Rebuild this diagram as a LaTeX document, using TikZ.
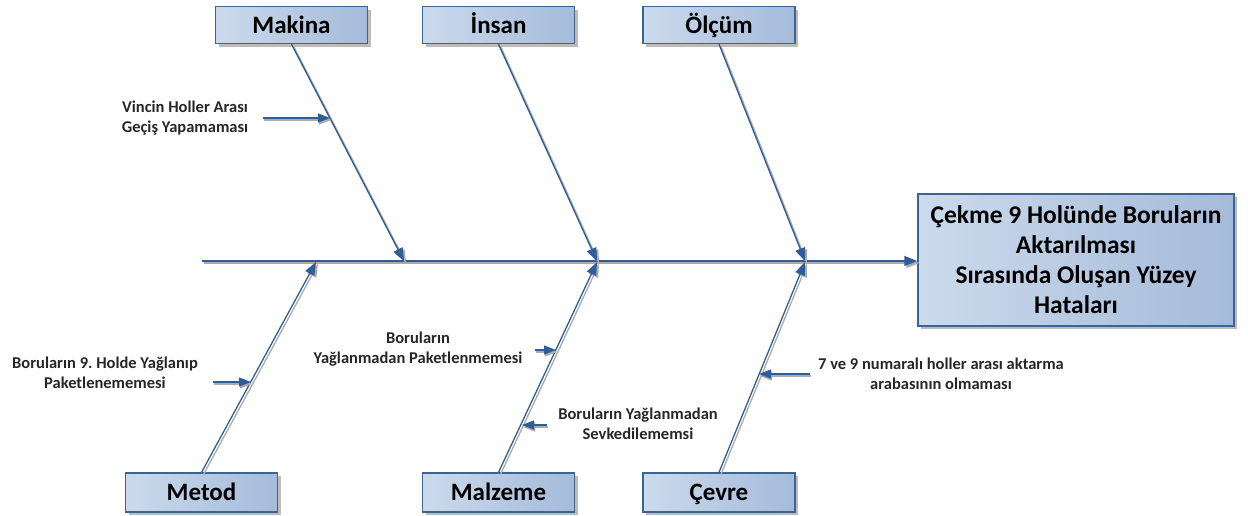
\documentclass[tikz,border=0pt]{standalone}
\usepackage{fontspec}
\setmainfont{Carlito}
\usetikzlibrary{arrows.meta,shadows,calc}
\definecolor{lineblue}{HTML}{2F5D99}
\definecolor{boxborder}{HTML}{3D6391}
\definecolor{boxL}{HTML}{CCDAEC}
\definecolor{boxR}{HTML}{A4BBDA}
\definecolor{shadowgray}{HTML}{ABABAB}
\frenchspacing
\tikzset{
  catbox/.style={draw=boxborder, line width=1.3pt, left color=boxL, right color=boxR,
    minimum width=152pt, minimum height=37pt, inner sep=0pt, text height=17pt, text depth=1pt,
    font=\fontsize{25}{28}\selectfont\bfseries,
    drop shadow={shadow xshift=3pt, shadow yshift=-3pt, fill=shadowgray, opacity=0.8}},
  effbox/.style={draw=boxborder, line width=1.3pt, left color=boxL, right color=boxR,
    minimum width=316pt, minimum height=132pt, inner sep=0pt, align=center,
    font=\fontsize{25.5}{30}\selectfont\bfseries,
    drop shadow={shadow xshift=3pt, shadow yshift=-3pt, fill=shadowgray, opacity=0.8}},
  sublabel/.style={align=center, font=\fontsize{16.5}{20}\selectfont\bfseries, text=black!85, inner sep=0pt},
  bone/.style={draw=lineblue, line width=1.3pt, -{Triangle[length=13pt,width=10pt]}},
  boneshadow/.style={draw=shadowgray, line width=1.3pt, -{Triangle[length=13pt,width=10pt]}, transform canvas={shift={(2pt,-2pt)}}},
  subarrow/.style={draw=lineblue, line width=1.3pt, -{Triangle[length=12pt,width=9pt]}},
  subshadow/.style={draw=shadowgray, line width=1.3pt, -{Triangle[length=12pt,width=9pt]}, transform canvas={shift={(1pt,-2pt)}}},
}
\begin{document}
\begin{tikzpicture}[x=1pt,y=-1pt]
\useasboundingbox (0,0) rectangle (1248,515);
% category boxes
\node[catbox] (makina) at (291.5,25) {Makina};
\node[catbox] (insan) at (498.5,25) {İnsan};
\node[catbox] (olcum) at (719,25) {Ölçüm};
\node[catbox, minimum height=39pt] (metod) at (201.5,492.5) {Metod};
\node[catbox, minimum height=39pt] (malzeme) at (498.5,492.5) {Malzeme};
\node[catbox, minimum height=39pt] (cevre) at (719,492.5) {Çevre};
% effect box
\node[effbox] (effect) at (1076,260) {Çekme 9 Holünde Boruların\\Aktarılması\\Sırasında Oluşan Yüzey\\Hataları};
% spine points
\coordinate (start) at (202,261);
\coordinate (s1) at (404,261);
\coordinate (s2) at (597,261);
\coordinate (s3) at (805,261);
\coordinate (b1) at (316,262);
\coordinate (b2) at (597,262);
\coordinate (b3) at (805,262);
% spine
\draw[boneshadow] (start) -- (effect.west |- start);
\draw[bone] (start) -- (effect.west |- start);
% top bones
\foreach \a/\b in {makina/s1, insan/s2, olcum/s3}{
  \draw[boneshadow] (\a.south) -- (\b);
  \draw[bone] (\a.south) -- (\b);
}
% bottom bones
\foreach \a/\b in {metod/b1, malzeme/b2, cevre/b3}{
  \draw[boneshadow] (\a.north) -- (\b);
  \draw[bone] (\a.north) -- (\b);
}
% sub-causes
\node[sublabel] (l1) at (185,118) {Vincin Holler Arası\\Geçiş Yapamaması};
\coordinate (t1s) at (263,118);
\coordinate (t1e) at (330,118);
\node[sublabel] (l2) at (105,373) {Boruların 9. Holde Yağlanıp\\Paketlenememesi};
\coordinate (t2s) at (213,382);
\coordinate (t2e) at (251,382);
\node[sublabel] (l3) at (418,349) {Boruların\\Yağlanmadan Paketlenmemesi};
\coordinate (t3s) at (535,350);
\coordinate (t3e) at (556,350);
\node[sublabel] (l4) at (638,424) {Boruların Yağlanmadan\\Sevkedilememsi};
\coordinate (t4s) at (547,425);
\coordinate (t4e) at (522,425);
\node[sublabel] (l5) at (941,374) {7 ve 9 numaralı holler arası aktarma\\arabasının olmaması};
\coordinate (t5s) at (810,374);
\coordinate (t5e) at (759,374);
\foreach \s/\e in {t1s/t1e, t2s/t2e, t3s/t3e, t4s/t4e, t5s/t5e}{
  \draw[subshadow] (\s) -- (\e);
  \draw[subarrow] (\s) -- (\e);
}
\end{tikzpicture}
\end{document}
